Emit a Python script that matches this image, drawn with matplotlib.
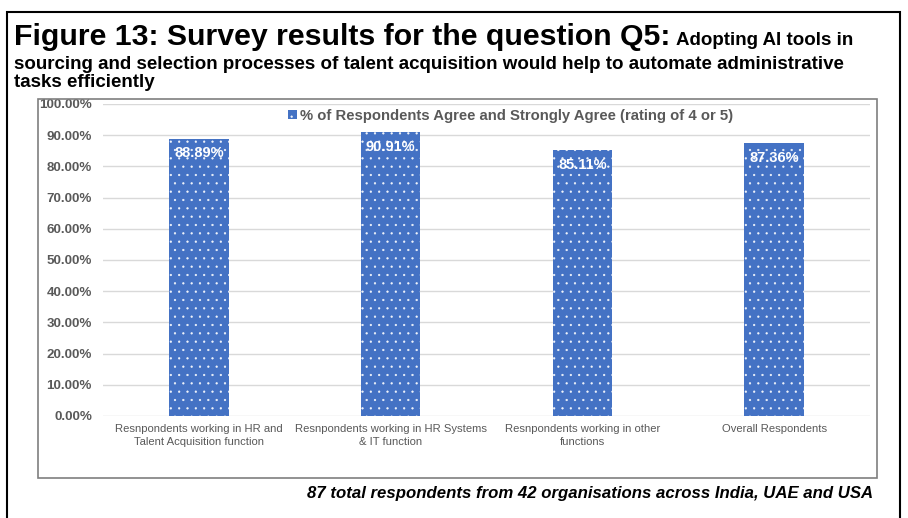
import matplotlib.pyplot as plt
from matplotlib.patches import Rectangle
from matplotlib.ticker import FuncFormatter

plt.rcParams['font.family'] = ['Liberation Sans', 'DejaVu Sans']
plt.rcParams['hatch.linewidth'] = 0.4

# survey data
categories = ["Resnpondents working in HR and\nTalent Acquisition function",
              "Resnpondents working in HR Systems\n& IT function",
              "Resnpondents working in other\nfunctions",
              "Overall Respondents"]
agree_pct = [88.89, 90.91, 85.11, 87.36]
series_name = "% of Respondents Agree and Strongly Agree (rating of 4 or 5)"

blue = "#4472C4"
grey = "#595959"

fig = plt.figure(figsize=(9.08, 5.18), dpi=100)
W, H = 908, 518

# outer frame and chart frame
fig.patches.append(Rectangle((7 / W, -0.05), (900 - 7) / W, (518 - 12) / H + 0.05,
                             transform=fig.transFigure, fill=False,
                             edgecolor="black", linewidth=1.5))
fig.patches.append(Rectangle((38 / W, 1 - 478 / H), (877 - 38) / W, (478 - 99) / H,
                             transform=fig.transFigure, fill=False,
                             edgecolor="#7f7f7f", linewidth=1.2))

# title
t1 = fig.text(14 / W, 1 - 45 / H, "Figure 13: Survey results for the question Q5:",
              fontsize=21.8, fontweight="bold", va="baseline", ha="left")
fig.canvas.draw()
bb = t1.get_window_extent()
fig.text(bb.x1 / W + 6 / W, 1 - 45 / H, "Adopting AI tools in",
         fontsize=13.5, fontweight="bold", va="baseline", ha="left")
fig.text(14 / W, 1 - 69 / H, "sourcing and selection processes of talent acquisition would help to automate administrative",
         fontsize=13.5, fontweight="bold", va="baseline", ha="left")
fig.text(14 / W, 1 - 87 / H, "tasks efficiently",
         fontsize=13.5, fontweight="bold", va="baseline", ha="left")

ax = fig.add_axes([103 / W, 1 - 416 / H, (870 - 103) / W, (416 - 104) / H])
x = range(len(categories))
bars = ax.bar(x, agree_pct, width=0.31, color=blue, edgecolor=(1, 1, 1, 0.9),
              linewidth=0, hatch="..", label=series_name)

for b, v in zip(bars, agree_pct):
    ax.text(b.get_x() + b.get_width() / 2, v - 2.4, f"{v:.2f}%",
            ha="center", va="top", color="white", fontsize=10.5, fontweight="bold")

ax.set_ylim(0, 100)
ax.set_xlim(-0.5, len(categories) - 0.5)
ax.set_yticks(range(0, 101, 10))
ax.yaxis.set_major_formatter(FuncFormatter(lambda v, p: f"{v:.2f}%"))
ax.set_xticks(list(x))
ax.set_xticklabels(categories, fontsize=8.1, color=grey, linespacing=1.3)
for lab in ax.get_yticklabels():
    lab.set_fontweight("bold")
    lab.set_fontsize(9.6)
    lab.set_color(grey)
ax.tick_params(axis="both", length=0)
ax.tick_params(axis="y", pad=8)
ax.tick_params(axis="x", pad=6)
ax.grid(axis="y", color="#d9d9d9", linewidth=1)
ax.set_axisbelow(True)
for s in ax.spines.values():
    s.set_visible(False)

leg = ax.legend(loc="upper center", bbox_to_anchor=(0.531, 1.003), frameon=False,
                handlelength=0.6, handleheight=0.6, handletextpad=0.2,
                borderaxespad=0, prop={"weight": "bold", "size": 10.7})
for txt in leg.get_texts():
    txt.set_color(grey)

fig.text(873 / W, 1 - 498 / H,
         "87 total respondents from 42 organisations across India, UAE and USA",
         fontsize=12.1, fontweight="bold", style="italic", ha="right", va="baseline")

fig.savefig("out.png", dpi=100)
